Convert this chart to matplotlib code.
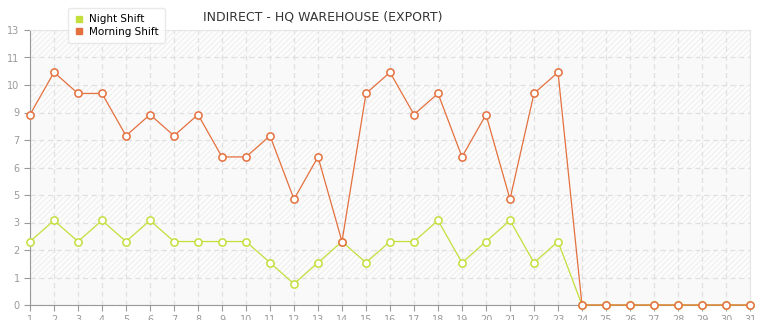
import numpy as np
import matplotlib.pyplot as plt
from matplotlib.patches import Rectangle

days = list(range(1, 32))
night_shift = [3, 4, 3, 4, 3, 4, 3, 3, 3, 3, 2, 1, 2, 3, 2, 3, 3, 4, 2, 3, 4, 2, 3,
               0, 0, 0, 0, 0, 0, 0, 0]
morning_shift = [9, 11, 10, 10, 8, 9, 8, 9, 7, 7, 8, 5, 7, 3, 10, 11, 9, 10, 7, 9, 5, 10, 11,
                 0, 0, 0, 0, 0, 0, 0, 0]
y_ticks = [i * 1.3 for i in range(11)]
y_labels = [str(int(np.floor(t + 1e-9))) for t in y_ticks]

night_color = '#c3df3c'
morning_color = '#e4703e'

plt.rcParams['hatch.linewidth'] = 0.6

fig = plt.figure(figsize=(7.65, 3.2), dpi=100)
ax = fig.add_axes([30 / 765, 1 - 305 / 320, 720 / 765, 275 / 320])
ax.set_xlim(1, 31)
ax.set_ylim(0, 13)

# alternating background bands
for i in range(10):
    lo, hi = y_ticks[i], y_ticks[i + 1]
    if i % 2 == 0:
        ax.add_patch(Rectangle((1, lo), 30, hi - lo, facecolor='#f9f9f9', edgecolor='none', zorder=0))
    else:
        ax.add_patch(Rectangle((1, lo), 30, hi - lo, facecolor='#fcfcfc', edgecolor='#ececec',
                               hatch='//////', linewidth=0, zorder=0))

ax.set_xticks(days)
ax.set_yticks(y_ticks)
ax.set_yticklabels(y_labels)
ax.grid(True, color='#e0e0e0', linestyle=(0, (4, 3)), linewidth=0.9)
ax.set_axisbelow(True)

ax.plot(days, night_shift, color=night_color, lw=0.9, marker='o', ms=5.2, mfc='white',
        mec=night_color, mew=1.1, clip_on=False, zorder=3, label='Night Shift')
ax.plot(days, morning_shift, color=morning_color, lw=0.9, marker='o', ms=5.2, mfc='white',
        mec=morning_color, mew=1.1, clip_on=False, zorder=4, label='Morning Shift')

for s in ['left', 'bottom']:
    ax.spines[s].set_color('#999999')
for s in ['top', 'right']:
    ax.spines[s].set_color('#e6e6e6')
ax.tick_params(colors='#999999', labelsize=7, length=4, width=0.8)

h1 = plt.Line2D([], [], color=night_color, marker='s', ls='none', ms=4)
h2 = plt.Line2D([], [], color=morning_color, marker='s', ls='none', ms=4)
leg = fig.legend([h1, h2], ['Night Shift', 'Morning Shift'], loc='upper left',
                 bbox_to_anchor=(63 / 765, 1 - 3 / 320), fontsize=7.5, frameon=True,
                 fancybox=True, shadow=False, handlelength=0.8, handletextpad=0.6,
                 labelspacing=0.25, borderpad=0.6, edgecolor='#e4e4e4')
leg.get_frame().set_facecolor('white')

fig.text(323 / 765, 1 - 17 / 320, 'INDIRECT - HQ WAREHOUSE (EXPORT)', ha='center', va='center',
         fontsize=9, color='#333333')

plt.savefig('out.png', dpi=100)
